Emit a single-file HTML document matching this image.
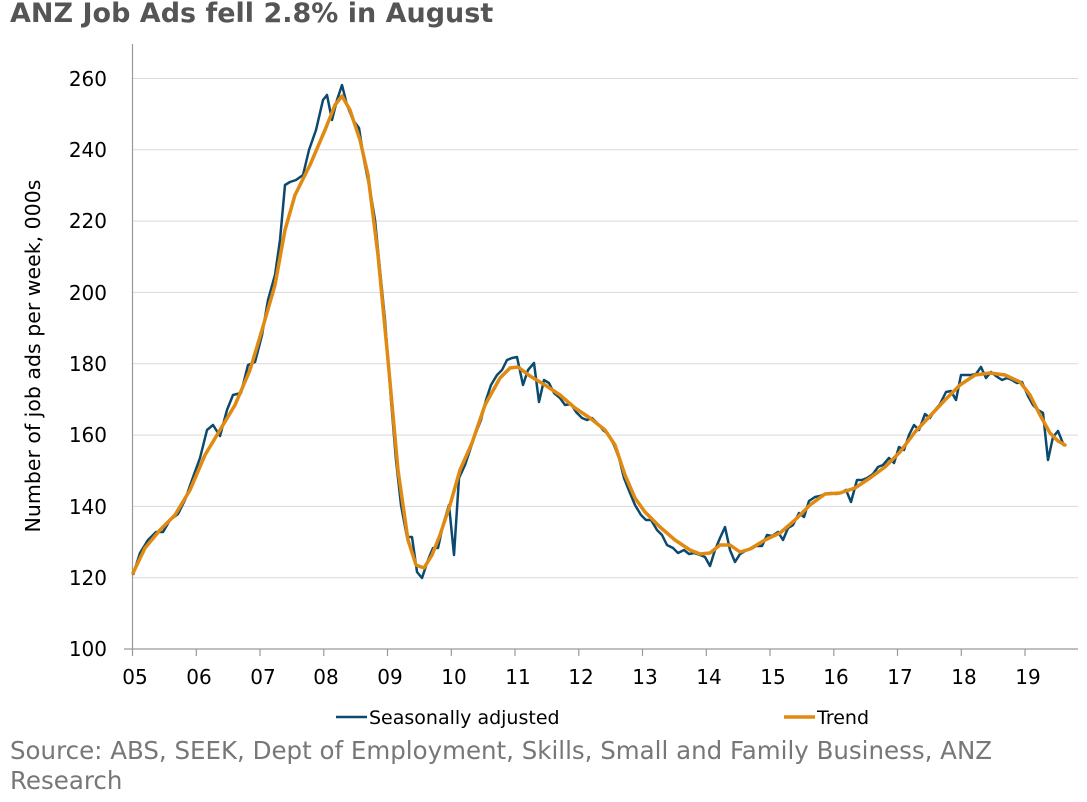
<!DOCTYPE html>
<html><head><style>
html,body{margin:0;padding:0;background:#fff;}
svg{display:block;font-family:"DejaVu Sans","Liberation Sans",sans-serif;}
</style></head><body>
<svg width="1087" height="802" xmlns="http://www.w3.org/2000/svg">
<text x="10" y="22" font-size="27" font-weight="bold" fill="#555">ANZ Job Ads fell 2.8% in August</text>
<g stroke="#d9d9d9" stroke-width="1">
<line x1="133" y1="78.5" x2="1078" y2="78.5"/>
<line x1="133" y1="149.8" x2="1078" y2="149.8"/>
<line x1="133" y1="221.1" x2="1078" y2="221.1"/>
<line x1="133" y1="292.4" x2="1078" y2="292.4"/>
<line x1="133" y1="363.8" x2="1078" y2="363.8"/>
<line x1="133" y1="435.1" x2="1078" y2="435.1"/>
<line x1="133" y1="506.4" x2="1078" y2="506.4"/>
<line x1="133" y1="577.7" x2="1078" y2="577.7"/>
</g>
<g stroke="#999" stroke-width="1.2">
<line x1="132.5" y1="44" x2="132.5" y2="649"/>
<line x1="124" y1="649" x2="1078" y2="649"/>
<line x1="132.5" y1="649" x2="132.5" y2="656"/><line x1="196.3" y1="649" x2="196.3" y2="656"/><line x1="260" y1="649" x2="260" y2="656"/><line x1="323.8" y1="649" x2="323.8" y2="656"/><line x1="387.5" y1="649" x2="387.5" y2="656"/><line x1="451.3" y1="649" x2="451.3" y2="656"/><line x1="515" y1="649" x2="515" y2="656"/><line x1="578.8" y1="649" x2="578.8" y2="656"/><line x1="642.5" y1="649" x2="642.5" y2="656"/><line x1="706.3" y1="649" x2="706.3" y2="656"/><line x1="770" y1="649" x2="770" y2="656"/><line x1="833.8" y1="649" x2="833.8" y2="656"/><line x1="897.5" y1="649" x2="897.5" y2="656"/><line x1="961.3" y1="649" x2="961.3" y2="656"/><line x1="1025" y1="649" x2="1025" y2="656"/>
</g>
<g font-size="20" fill="#000" text-anchor="end">
<text x="107" y="86">260</text><text x="107" y="157">240</text><text x="107" y="228">220</text><text x="107" y="300">200</text><text x="107" y="371">180</text><text x="107" y="442">160</text><text x="107" y="514">140</text><text x="107" y="585">120</text><text x="107" y="656">100</text>
</g>
<g font-size="20" fill="#000" text-anchor="middle">
<text x="135" y="684">05</text><text x="199" y="684">06</text><text x="263" y="684">07</text><text x="326" y="684">08</text><text x="390" y="684">09</text><text x="454" y="684">10</text><text x="518" y="684">11</text><text x="581" y="684">12</text><text x="645" y="684">13</text><text x="709" y="684">14</text><text x="773" y="684">15</text><text x="836" y="684">16</text><text x="900" y="684">17</text><text x="964" y="684">18</text><text x="1028" y="684">19</text>
</g>
<text transform="translate(40,356) rotate(-90)" font-size="20.5" text-anchor="middle" fill="#000">Number of job ads per week, 000s</text>
<polyline fill="none" stroke="#0b4a6e" stroke-width="2.5" stroke-linejoin="round" points="133,575 140,553 148,540 156,532 163,532 170,520 178,514 185,500 192,480 200,458 207,430 213,425 220,436 227,410 233,395 241,393 248,365 255,362 262,335 268,300 275,275 280,240 285,185 290,182 296,180 303,175 309,150 316,130 323,100 327,95 332,120 337,100 342,85 347,105 353,120 359,128 364,160 370,190 375,220 380,270 385,320 391,400 396,460 401,505 407,537 412,537 417,572 422,578 428,560 433,548 438,548 443,525 449,505 454,555 459,478 465,465 470,450 475,435 481,420 486,400 491,385 497,375 502,370 507,360 512,358 517,357 523,385 528,370 534,363 539,402 544,380 549,383 554,393 560,398 565,405 571,404 576,412 582,418 587,420 592,418 598,424 603,430 608,434 614,445 619,458 624,478 630,493 635,505 641,515 646,520 651,520 657,530 662,535 667,545 673,548 678,553 684,550 689,554 694,553 700,555 705,557 710,566 715,550 720,538 725,527 730,550 735,562 740,554 745,551 751,549 756,546 762,546 767,535 772,536 778,532 783,540 788,528 793,525 799,513 804,517 809,501 815,497 820,496 825,494 831,493 836,494 841,493 846,490 851,502 857,480 862,480 867,478 873,474 878,467 883,465 889,458 894,463 899,447 904,450 909,435 914,425 919,430 925,414 930,418 935,410 940,404 946,392 951,391 956,400 961,375 966,375 971,375 976,374 981,367 986,378 991,372 996,376 1002,380 1007,378 1012,380 1017,383 1022,382 1028,396 1033,405 1038,410 1043,413 1048,460 1053,437 1058,431 1064,446"/>
<polyline fill="none" stroke="#e08a12" stroke-width="3.5" stroke-linejoin="round" stroke-linecap="round" points="133,573 145,548 160,530 175,515 190,490 205,455 220,430 235,405 250,370 262,330 275,285 285,230 295,195 310,165 325,130 335,105 342,96 350,110 360,140 368,175 378,255 388,360 398,470 408,540 416,565 424,568 432,555 440,535 450,505 460,470 472,443 485,405 500,378 510,368 518,367 530,376 545,385 560,395 575,408 590,418 605,430 615,445 625,475 635,498 645,512 660,527 675,540 690,550 700,554 710,553 720,545 730,545 740,552 750,549 765,540 780,533 795,520 810,505 825,494 840,493 855,488 870,478 885,467 900,452 915,432 930,416 945,400 960,385 975,375 990,373 1005,375 1020,382 1030,395 1040,415 1050,433 1058,441 1065,445"/>
<line x1="336" y1="717" x2="367" y2="717" stroke="#0b4a6e" stroke-width="2.5"/>
<text x="369" y="724" font-size="19" fill="#000">Seasonally adjusted</text>
<line x1="784" y1="717" x2="815" y2="717" stroke="#e08a12" stroke-width="3.5"/>
<text x="817" y="724" font-size="19" fill="#000">Trend</text>
<text x="10" y="759" font-size="24.5" fill="#777">Source: ABS, SEEK, Dept of Employment, Skills, Small and Family Business, ANZ</text>
<text x="10" y="789" font-size="24.5" fill="#777">Research</text>
</svg>
</body></html>
